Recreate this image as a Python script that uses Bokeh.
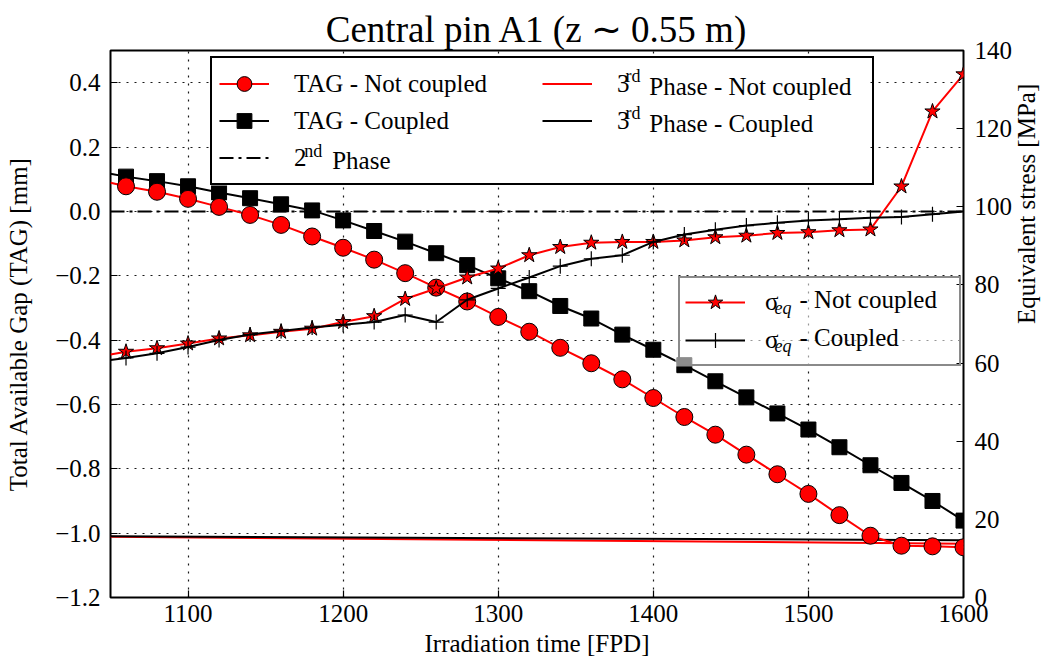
import math
from bokeh.plotting import figure
from bokeh.models import (Range1d, LinearAxis, FixedTicker, CustomJSTickFormatter,
                          Legend, LegendItem, Label, BoxAnnotation)
from bokeh.embed import file_html
from bokeh.resources import INLINE

# ---------------- data ----------------
fpd = [1060, 1080, 1100, 1120, 1140, 1160, 1180, 1200, 1220, 1240, 1260, 1280, 1300, 1320,
       1340, 1360, 1380, 1400, 1420, 1440, 1460, 1480, 1500, 1520, 1540, 1560, 1580, 1600]

tag_not_coupled = [0.078, 0.061, 0.039, 0.014, -0.011, -0.042, -0.078, -0.113, -0.150, -0.192,
                   -0.237, -0.280, -0.328, -0.374, -0.424, -0.472, -0.522, -0.580, -0.639, -0.694,
                   -0.756, -0.817, -0.878, -0.944, -1.008, -1.039, -1.041, -1.044]
tag_coupled = [0.108, 0.094, 0.078, 0.059, 0.041, 0.022, 0.003, -0.028, -0.061, -0.094,
               -0.130, -0.167, -0.208, -0.248, -0.294, -0.333, -0.383, -0.430, -0.478, -0.528,
               -0.578, -0.628, -0.678, -0.733, -0.789, -0.844, -0.900, -0.961]
stress_not_coupled = [62.9, 63.8, 65.0, 66.3, 67.1, 68.0, 68.8, 70.5, 72.0, 76.4,
                      79.1, 81.9, 84.2, 87.6, 89.7, 90.8, 91.0, 91.0, 91.4, 92.2,
                      92.6, 93.3, 93.5, 94.0, 94.2, 105.2, 124.4, 133.9]
stress_coupled = [61.3, 62.5, 64.1, 65.9, 67.3, 68.2, 69.1, 69.8, 70.5, 72.3,
                  70.5, 76.2, 79.1, 81.9, 84.8, 86.7, 87.6, 91.0, 92.9, 94.1,
                  95.2, 95.9, 96.5, 96.8, 97.2, 97.4, 98.1, 98.8]

# values where the curves enter the left edge of the frame (x = 1050)
edge_fpd = 1050
tag_not_coupled_edge = 0.089
tag_coupled_edge = 0.117
stress_not_coupled_edge = 62.2
stress_coupled_edge = 60.8

# phase thresholds [mm]
phase_x = [1050, 1600]
phase2 = [0.0, 0.0]
phase3_not_coupled = [-1.011, -1.033]
phase3_coupled = [-1.010, -1.022]

x_ticks = [1100, 1200, 1300, 1400, 1500, 1600]
gap_ticks = [-1.2, -1.0, -0.8, -0.6, -0.4, -0.2, 0.0, 0.2, 0.4]
stress_ticks = [0, 20, 40, 60, 80, 100, 120, 140]

# ---------------- layout ----------------
W, H = 1056, 664
BL, BR, BT, BB = 110, 88, 50, 67
X0, X1 = 1050, 1600
Y0, Y1 = -1.2, 0.5
FONT = "Liberation Serif"

p = figure(width=W, height=H, x_range=Range1d(X0, X1), y_range=Range1d(Y0, Y1),
           output_backend="svg", toolbar_location=None,
           min_border_left=BL, min_border_right=BR, min_border_top=BT, min_border_bottom=BB,
           background_fill_color="white", border_fill_color="white")
p.outline_line_color = "black"
p.outline_line_width = 2

p.title.text = "Central pin A1 (z \u223c 0.55 m)"
p.title.align = "center"
p.title.text_font = FONT
p.title.text_font_size = "37px"
p.title.text_font_style = "normal"
p.title.text_color = "black"
p.title.offset = 0
p.title.standoff = 2

p.extra_y_ranges = {"stress": Range1d(0, 140)}

def style_axis(ax):
    ax.axis_line_color = None
    ax.major_tick_in = 7
    ax.major_tick_out = 0
    ax.major_tick_line_color = "black"
    ax.major_tick_line_width = 1.2
    ax.minor_tick_line_color = None
    ax.major_label_text_font = FONT
    ax.major_label_text_font_size = "25px"
    ax.major_label_text_font_style = "normal"
    ax.major_label_text_color = "black"
    ax.axis_label_text_font = FONT
    ax.axis_label_text_font_size = "25px"
    ax.axis_label_text_font_style = "normal"
    ax.axis_label_text_color = "black"

xa = p.xaxis[0]
xa.ticker = FixedTicker(ticks=x_ticks)
xa.axis_label = "Irradiation time [FPD]"
style_axis(xa)
xa.major_label_standoff = 7
xa.axis_label_standoff = 5

ya = p.yaxis[0]
ya.ticker = FixedTicker(ticks=gap_ticks)
ya.formatter = CustomJSTickFormatter(code="""
const v = Math.abs(tick) < 1e-9 ? 0 : tick;
return (v < 0 ? '\u2212' : '') + Math.abs(v).toFixed(1);
""")
ya.axis_label = "Total Available Gap (TAG) [mm]"
style_axis(ya)
ya.major_label_standoff = 10
ya.axis_label_standoff = 20

ra = LinearAxis(y_range_name="stress", ticker=FixedTicker(ticks=stress_ticks),
                axis_label="Equivalent stress [MPa]")
style_axis(ra)
ra.major_label_standoff = 11
ra.axis_label_standoff = 11
if "axis_label_orientation" in ra.properties():
    ra.axis_label_orientation = math.pi / 2
p.add_layout(ra, "right")

p.xgrid.ticker = FixedTicker(ticks=x_ticks)
p.ygrid.ticker = FixedTicker(ticks=gap_ticks)
for g in (p.xgrid[0], p.ygrid[0]):
    g.grid_line_color = "black"
    g.grid_line_dash = "2 6"
    g.grid_line_width = 1.2
    g.grid_line_alpha = 0.9

# ---------------- glyphs ----------------
RED = "#ff0000"
LW = 2

r_p3_nc = p.line(phase_x, phase3_not_coupled, line_color=RED, line_width=LW)
r_p3_c = p.line(phase_x, phase3_coupled, line_color="black", line_width=LW)
r_p2 = p.line(phase_x, phase2, line_color="black", line_width=LW, line_dash="14 5 3 5")

l_tag_c = p.line([edge_fpd] + fpd, [tag_coupled_edge] + tag_coupled, line_color="black", line_width=LW)
s_tag_c = p.scatter(fpd, tag_coupled, marker="square", size=15, fill_color="black", line_color="black")
l_tag_nc = p.line([edge_fpd] + fpd, [tag_not_coupled_edge] + tag_not_coupled, line_color=RED, line_width=LW)
s_tag_nc = p.scatter(fpd, tag_not_coupled, marker="circle", size=17, fill_color=RED, line_color="black", line_width=1)

l_s_nc = p.line([edge_fpd] + fpd, [stress_not_coupled_edge] + stress_not_coupled, line_color=RED,
                line_width=LW, y_range_name="stress")
s_s_nc = p.scatter(fpd, stress_not_coupled, marker="star", size=16, fill_color=RED, line_color="black",
                   line_width=1, y_range_name="stress")
l_s_c = p.line([edge_fpd] + fpd, [stress_coupled_edge] + stress_coupled, line_color="black",
               line_width=LW, y_range_name="stress")
s_s_c = p.scatter(fpd, stress_coupled, marker="cross", size=15, line_color="black",
                  line_width=1.2, y_range_name="stress")

# ---------------- legends ----------------
FW = W - BL - BR
FH = H - BT - BB
def X(px):
    return X0 + (px - BL) * (X1 - X0) / FW
def Y(py):
    return Y1 - (py - BT) * (Y1 - Y0) / FH

# legend backgrounds (drawn below the legend and its extra texts)
p.add_layout(BoxAnnotation(left=X(210), right=X(872), top=Y(58), bottom=Y(185),
                           fill_color="white", fill_alpha=1.0, line_alpha=0))
p.add_layout(BoxAnnotation(left=X(678), right=X(958), top=Y(280), bottom=Y(366),
                           fill_color="white", fill_alpha=0.55, line_alpha=0))

leg_text = dict(label_text_font=FONT, label_text_font_size="25px", label_text_color="black",
                label_text_font_style="normal")

leg1 = Legend(items=[
    LegendItem(label="TAG - Not coupled", renderers=[l_tag_nc, s_tag_nc]),
    LegendItem(label="TAG - Coupled", renderers=[l_tag_c, s_tag_c]),
    LegendItem(label="2", renderers=[r_p2]),
    LegendItem(label="3", renderers=[r_p3_nc]),
    LegendItem(label="3", renderers=[r_p3_c]),
], location=(100, 412), orientation="vertical", nrows=3, padding=7, spacing=0, margin=0,
    glyph_width=50, glyph_height=37, label_standoff=25, label_width=248, label_height=20,
    border_line_color="black", border_line_width=2,
    border_line_alpha=1.0, background_fill_alpha=0.0, **leg_text)
p.add_layout(leg1)

leg2 = Legend(items=[
    LegendItem(label="\u03c3", renderers=[l_s_nc, s_s_nc]),
    LegendItem(label="\u03c3", renderers=[l_s_c, s_s_c]),
], location=(568, 231), orientation="vertical", padding=5, spacing=0, margin=0,
    glyph_width=60, glyph_height=38, label_standoff=20, label_width=189, label_height=20,
    border_line_color="#8a8a8a", border_line_width=2,
    border_line_alpha=1.0, background_fill_alpha=0.0, **leg_text)
p.add_layout(leg2)

def lab(text, px, py, size="25px", style="normal"):
    p.add_layout(Label(x=X(px), y=Y(py), text=text, text_font=FONT, text_font_size=size,
                       text_font_style=style, text_baseline="middle", text_align="left",
                       text_color="black", level="overlay"))

# rows of legend 1 sit at y = 85.5, 122.5, 159.5 px; legend 2 rows at 304, 342 px
lab("nd", 305, 150, "18px")
lab("Phase", 333, 159.5)
lab("rd", 628, 75, "18px")
lab("Phase - Not coupled", 652, 85.5)
lab("rd", 628, 112, "18px")
lab("Phase - Coupled", 652, 122.5)

lab("eq", 778, 307, "18px", "italic")
lab("- Not coupled", 803, 299)
lab("eq", 778, 345, "18px", "italic")
lab("- Coupled", 803, 337)

with open("out.html", "w", encoding="utf-8") as f:
    f.write(file_html(p, INLINE))
